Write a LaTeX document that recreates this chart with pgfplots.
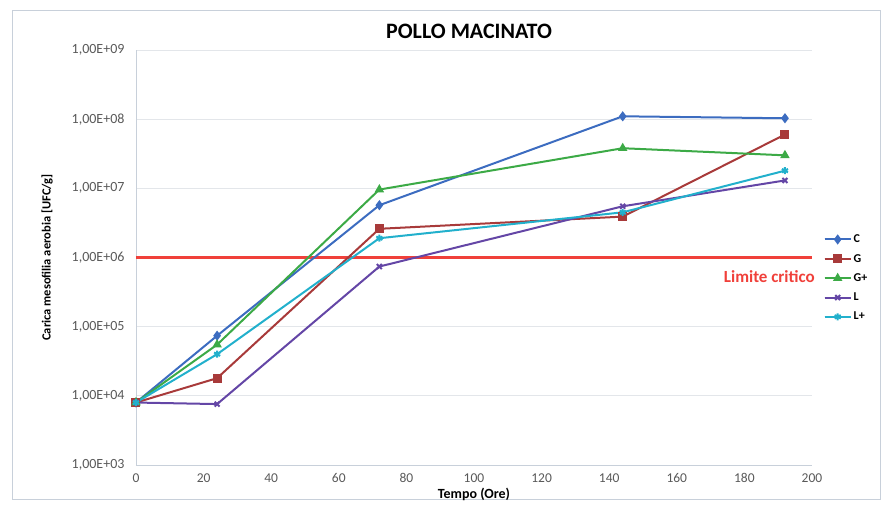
\documentclass[border=0pt]{standalone}
\usepackage{pgfplots}
\pgfplotsset{compat=1.18}
\usepackage{fontspec}
\setmainfont{Carlito}
\definecolor{cC}{HTML}{3C6CC0}
\definecolor{cG}{HTML}{A83A3A}
\definecolor{cGp}{HTML}{3CAA46}
\definecolor{cL}{HTML}{6446A6}
\definecolor{cLp}{HTML}{22B0CC}
\definecolor{limitred}{HTML}{F0403A}
\definecolor{gridc}{HTML}{E3E6EA}
\definecolor{axc}{HTML}{C8D0DA}
\definecolor{tickc}{HTML}{595959}
\begin{document}
\begin{tikzpicture}
\useasboundingbox (-136pt,-42pt) rectangle (753pt,465pt);
\draw[color=axc, line width=0.8pt] (-124pt,-34pt) rectangle (744pt,455pt);
\begin{axis}[
  at={(0pt,0pt)}, anchor=south west,
  scale only axis, width=676pt, height=415pt,
  xmin=0, xmax=200, ymode=log, ymin=1e3, ymax=1e9,
  log basis y=10,
  xtick={0,20,...,200},
  ytick={1e3,1e4,1e5,1e6,1e7,1e8,1e9},
  yticklabels={{1,00E+03},{1,00E+04},{1,00E+05},{1,00E+06},{1,00E+07},{1,00E+08},{1,00E+09}},
  /pgf/number format/assume math mode=true,
  tick label style={font=\fontsize{14}{16}\selectfont, text=tickc},
  xticklabel style={yshift=-5pt, font=\fontsize{13.5}{15}\selectfont},
  yticklabel style={xshift=-8pt},
  major tick length=0pt,
  axis x line*=bottom, axis y line*=left,
  axis line style={color=axc, line width=0.8pt, -},
  ymajorgrids, grid style={color=gridc, line width=0.8pt},
  title={\bfseries POLLO MACINATO},
  title style={font=\fontsize{22}{24}\selectfont, yshift=2pt, xshift=-5pt},
  xlabel={\bfseries Tempo (Ore)},
  xlabel style={font=\fontsize{14}{16}\selectfont, yshift=2pt},
  ylabel={\bfseries Carica mesofilia aerobia [UFC/g]},
  ylabel style={font=\fontsize{12.5}{14}\selectfont, yshift=12pt},
  legend style={at={(1.017,0.56)}, anchor=north west, draw=none, fill=none,
    font=\fontsize{12}{14}\selectfont\bfseries, row sep=6pt,
    inner sep=0pt},
  legend cell align=left,
  legend image code/.code={\draw[#1] (0pt,0pt) -- (26pt,0pt); \path[#1, mark repeat=2, mark phase=2] plot coordinates {(0pt,0pt) (13pt,0pt) (26pt,0pt)};},
  clip=false,
]
\addplot[forget plot, draw=limitred, line width=2.2pt, mark=none] table {
x y
0 1000000
200 1000000
};
\addplot[color=cC, line width=2pt, mark=diamond*, mark size=3.5pt, mark options={solid, fill=cC}]
  coordinates {(0,8e3) (24,7.4e4) (72,5.7e6) (144,1.1e8) (192,1.03e8)};
\addlegendentry{C}
\addplot[color=cG, line width=2pt, mark=square*, mark size=3.5pt, mark options={solid, fill=cG}]
  coordinates {(0,8e3) (24,1.8e4) (72,2.6e6) (144,3.9e6) (192,6e7)};
\addlegendentry{G}
\addplot[color=cGp, line width=2pt, mark=triangle*, mark size=3.5pt, mark options={solid, fill=cGp}]
  coordinates {(0,8e3) (24,5.5e4) (72,9.6e6) (144,3.8e7) (192,3e7)};
\addlegendentry{G+}
\addplot[color=cL, line width=2pt, mark=x, mark size=3.5pt, mark options={solid}]
  coordinates {(0,8e3) (24,7.6e3) (72,7.4e5) (144,5.5e6) (192,1.3e7)};
\addlegendentry{L}
\addplot[color=cLp, line width=2pt, mark=asterisk, mark size=3.5pt, mark options={solid}]
  coordinates {(0,8e3) (24,4e4) (72,1.9e6) (144,4.5e6) (192,1.8e7)};
\addlegendentry{L+}
\node[anchor=north east, text=limitred, font=\fontsize{17}{19}\selectfont\bfseries, inner sep=0pt]
  at (axis cs:200,1e6) [yshift=-13pt, xshift=3pt] {Limite critico};
\end{axis}
\end{tikzpicture}
\end{document}
